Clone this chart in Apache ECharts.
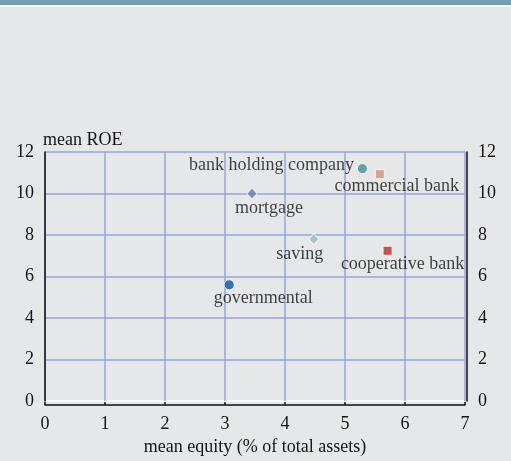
<!DOCTYPE html>
<html>
<head>
<meta charset="utf-8">
<script src="https://cdn.jsdelivr.net/npm/echarts@6/dist/echarts.min.js"></script>
<style>
html,body{margin:0;padding:0;background:#e6e7e9;}
#c{width:511px;height:461px;}
</style>
</head>
<body>
<div id="c"></div>
<script>
var names = ['bank holding company','commercial bank','mortgage','saving','cooperative bank','governmental'];
var equity = [5.29, 5.58, 3.45, 4.48, 5.71, 3.07];
var roe = [11.2, 10.93, 10.0, 7.8, 7.24, 5.6];
var xTicks = [0,1,2,3,4,5,6,7];
var yTicks = [0,2,4,6,8,10,12];

var colors = ['#468c98','#d4917e','#6b7bb0','#98b8c2','#b5332c','#0a55a5'];
var symbols = ['circle','rect','diamond','diamond','rect','circle'];
var sizes = [10, 9, [10,11], [10,11], 9, 10];
var offsets = [[-91,-3],[17,12],[17,15],[-14,15],[15,13],[34,13]];

var font = 'Liberation Serif';
var txt = '#141414';
var fs = 18;
var series = names.map(function(n,i){
  return {
    type:'scatter', name:n,
    symbol:symbols[i], symbolSize:sizes[i],
    itemStyle:{color:colors[i], borderColor:'#ffffff', borderWidth:1},
    label:{show:true, position:'inside', offset:offsets[i], formatter:n,
      color:txt, fontFamily:font, fontSize:fs},
    data:[[equity[i], roe[i]]]
  };
});

var chart = echarts.init(document.getElementById('c'));
var blue = '#96a5dc';
chart.setOption({
  backgroundColor:'#e6e7e9',
  animation:false,
  graphic:[
    {type:'rect', shape:{x:0,y:0,width:511,height:5}, style:{fill:'#769eae'}},
    {type:'rect', shape:{x:0,y:5,width:511,height:2}, style:{fill:'#f4f6f7'}}
  ],
  grid:{left:45, right:46, top:152, bottom:60, outerBoundsMode:'none', containLabel:false},
  xAxis:{
    type:'value', min:0, max:7, interval:1, offset:4,
    name:'mean equity (% of total assets)', nameLocation:'middle', nameGap:29,
    nameTextStyle:{fontFamily:font, fontSize:fs, color:txt},
    axisLine:{show:true, onZero:false, lineStyle:{color:'#111', width:1.5}},
    axisTick:{show:true, inside:true, length:3, lineStyle:{color:'#111', width:1.5}},
    axisLabel:{fontFamily:font, fontSize:fs, color:txt, margin:10,
      formatter:function(v){return xTicks.indexOf(v)>=0?String(v):'';}},
    splitLine:{show:true, lineStyle:{color:blue, width:1.5}}
  },
  yAxis:[{
    type:'value', min:0, max:12, interval:2, position:'left',
    name:'mean ROE', nameLocation:'end', nameGap:3,
    nameTextStyle:{fontFamily:font, fontSize:fs, color:txt, align:'left', padding:[0,0,0,-2]},
    axisLine:{show:true, onZero:false, lineStyle:{color:'#111', width:1.5}},
    axisTick:{show:false},
    axisLabel:{fontFamily:font, fontSize:fs, color:txt, margin:11,
      formatter:function(v){return yTicks.indexOf(v)>=0?String(v):'';}},
    splitLine:{show:true, lineStyle:{color:['#ffffff',blue,blue,blue,blue,blue,blue], width:1.5}}
  },{
    type:'value', min:0, max:12, interval:2, position:'right', offset:2,
    axisLine:{show:true, onZero:false, lineStyle:{color:'#111', width:1.5}},
    axisTick:{show:false},
    axisLabel:{fontFamily:font, fontSize:fs, color:txt, margin:11,
      formatter:function(v){return yTicks.indexOf(v)>=0?String(v):'';}},
    splitLine:{show:false}
  }],
  series:series
});
</script>
</body>
</html>
